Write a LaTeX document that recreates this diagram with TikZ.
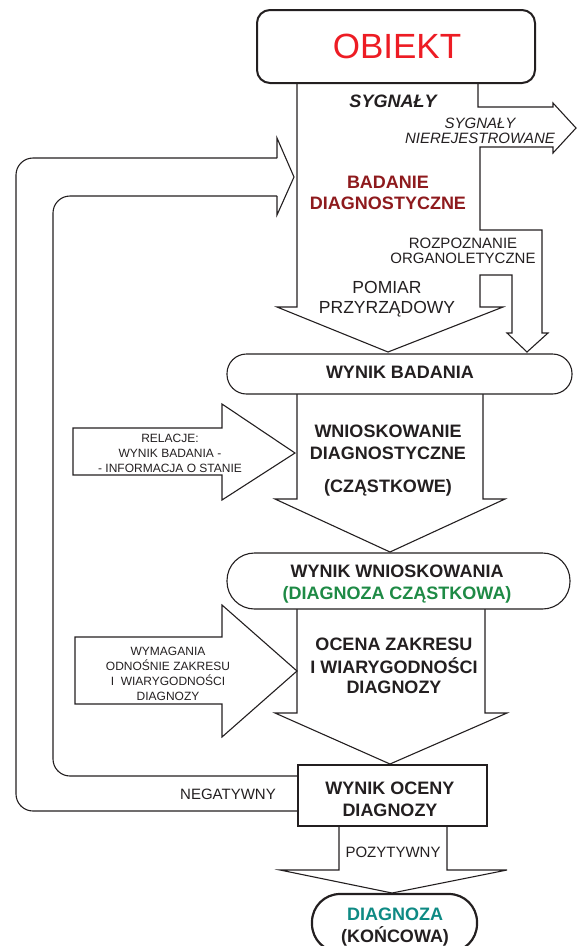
\documentclass[tikz,border=0pt]{standalone}
\usepackage{fontspec}
\setmainfont{Liberation Sans}
\definecolor{ink}{HTML}{231F20}
\definecolor{objred}{HTML}{ED1C24}
\definecolor{darkred}{HTML}{8E1A1D}
\definecolor{dgreen}{HTML}{1E8A45}
\definecolor{teal}{HTML}{0E8A84}
\begin{document}
\begin{tikzpicture}[x=1pt,y=-1pt,
  t/.style={anchor=base, inner sep=0pt, text=ink},
  bigb/.style={t, font=\fontsize{18}{21}\selectfont\bfseries},
  midr/.style={t, font=\fontsize{15}{18}\selectfont},
  largr/.style={t, font=\fontsize{17.5}{20}\selectfont},
  smlr/.style={t, font=\fontsize{12}{14}\selectfont},
  outline/.style={draw=ink, line width=1.1pt, line join=miter},
  box/.style={draw=ink, line width=1.1pt, fill=white, inner sep=0pt}]
\useasboundingbox (0,0) rectangle (577,946);

% ---- block arrows ----
% main arrow from OBIEKT with two side branches
\draw[outline] (297,83) -- (297,307) -- (277,307) -- (388,352) -- (503,307) -- (480,307)
  -- (480,275) -- (512,275) -- (512,333) -- (507,333) -- (527,352) -- (548,333) -- (542,333)
  -- (542,230) -- (480,230) -- (480,147) -- (553,147) -- (553,153) -- (576,128) -- (553,103)
  -- (553,107) -- (478,107) -- (478,83);
% WNIOSKOWANIE arrow
\draw[outline] (297,394) -- (297,499) -- (275,499) -- (390,552) -- (505,499) -- (483,499) -- (483,394);
% OCENA arrow
\draw[outline] (297,609) -- (297,713) -- (275,713) -- (390,764) -- (507,713) -- (485,713) -- (485,609);
% POZYTYWNY arrow
\draw[outline] (339,826) -- (339,870) -- (280,870) -- (392,893) -- (507,870) -- (447,870) -- (447,826);
% RELACJE arrow
\draw[outline] (73,428) -- (222,428) -- (222,404) -- (295,453) -- (222,500) -- (222,475) -- (73,475) -- cycle;
% WYMAGANIA arrow
\draw[outline] (75,637) -- (222,637) -- (222,605) -- (297,671) -- (222,737) -- (222,704) -- (75,704) -- cycle;
% feedback loop
\draw[outline, rounded corners=17pt] (298,811) -- (16,811) -- (16,158) -- (277,158);
\draw[outline, rounded corners=17pt] (277,196) -- (53,196) -- (53,776) -- (298,776);
\draw[outline] (277,158) -- (277,138) -- (294,177) -- (277,215) -- (277,196);

% ---- boxes ----
\node[box, line width=2pt, rounded corners=13pt, minimum width=278pt, minimum height=73pt] (obiekt) at (396,46.5) {};
\node[box, rounded corners=19.5pt, minimum width=345pt, minimum height=40pt] (wbad) at (399.5,374) {};
\node[box, rounded corners=27.5pt, minimum width=343pt, minimum height=56pt] (wwn) at (398.5,581) {};
\node[box, minimum width=189pt, minimum height=61pt] (wocen) at (392.5,795.5) {};
\node[box, line width=2.2pt, rounded corners=28pt, minimum width=165pt, minimum height=58pt] (diag) at (394.5,923) {};

% ---- texts ----
\node[t, text=objred, font=\fontsize{35}{40}\selectfont] (tobiekt) at (397,58) {OBIEKT};
\node[t, font=\fontsize{18}{20}\selectfont\bfseries\itshape] (tsyg) at (393,107) {SYGNAŁY};
\node[midr, font=\fontsize{15}{18}\selectfont\itshape] (tsn1) at (480,128) {SYGNAŁY};
\node[midr, font=\fontsize{15}{18}\selectfont\itshape] (tsn2) at (480,143) {NIEREJESTROWANE};
\node[bigb, text=darkred] (tbad1) at (388,188) {BADANIE};
\node[bigb, text=darkred] (tbad2) at (388,209) {DIAGNOSTYCZNE};
\node[midr] (troz1) at (463,248) {ROZPOZNANIE};
\node[midr] (troz2) at (463,263) {ORGANOLETYCZNE};
\node[largr] (tpom1) at (387,293) {POMIAR};
\node[largr] (tpom2) at (387,313) {PRZYRZĄDOWY};
\node[bigb] (twbad) at (400,378) {WYNIK BADANIA};
\node[bigb] (twn1) at (388,437) {WNIOSKOWANIE};
\node[bigb] (twn2) at (388,459) {DIAGNOSTYCZNE};
\node[bigb] (twn3) at (388,492) {(CZĄSTKOWE)};
\node[smlr] (trel1) at (170,442) {RELACJE:};
\node[smlr] (trel2) at (170,457) {WYNIK BADANIA -};
\node[smlr] (trel3) at (170,472) {- INFORMACJA O STANIE};
\node[bigb] (tww1) at (397,577) {WYNIK WNIOSKOWANIA};
\node[bigb, text=dgreen] (tww2) at (397,599) {(DIAGNOZA CZĄSTKOWA)};
\node[bigb] (toc1) at (394,650) {OCENA ZAKRESU};
\node[bigb] (toc2) at (394,673) {I WIARYGODNOŚCI};
\node[bigb] (toc3) at (394,693) {DIAGNOZY};
\node[smlr] (twym1) at (168,655) {WYMAGANIA};
\node[smlr] (twym2) at (168,670) {ODNOŚNIE ZAKRESU};
\node[smlr] (twym3) at (168,685) {I\ \ WIARYGODNOŚCI};
\node[smlr] (twym4) at (168,700) {DIAGNOZY};
\node[midr] (tneg) at (228,799) {NEGATYWNY};
\node[bigb] (twoc1) at (390,794) {WYNIK OCENY};
\node[bigb] (twoc2) at (390,816) {DIAGNOZY};
\node[midr] (tpoz) at (393,857) {POZYTYWNY};
\node[bigb, text=teal] (tdiag1) at (395,920) {DIAGNOZA};
\node[bigb] (tdiag2) at (395,942) {(KOŃCOWA)};
\end{tikzpicture}
\end{document}
